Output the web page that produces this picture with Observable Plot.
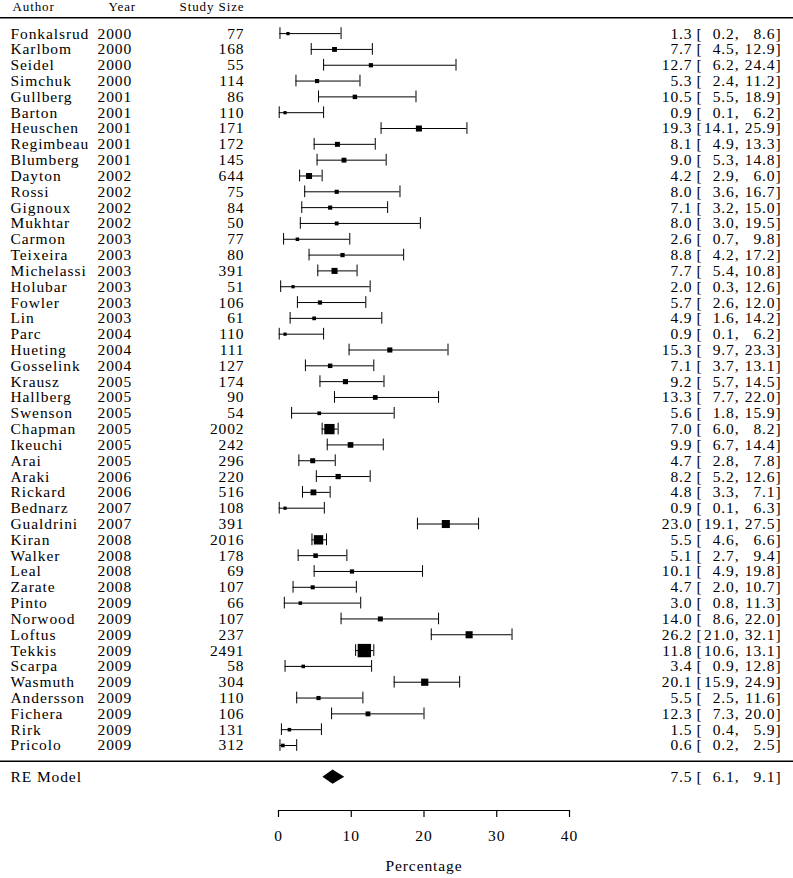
<!DOCTYPE html>
<html><head><meta charset="utf-8">
<script src="https://cdn.jsdelivr.net/npm/d3@7"></script>
<script src="https://cdn.jsdelivr.net/npm/@observablehq/plot@0.6"></script>
<style>html,body{margin:0;padding:0;background:#fff} svg{display:block} svg text{letter-spacing:0.9px}</style>
</head><body><div id="chart"></div>
<script>
const authors = ["Fonkalsrud","Karlbom","Seidel","Simchuk","Gullberg","Barton","Heuschen","Regimbeau","Blumberg","Dayton","Rossi","Gignoux","Mukhtar","Carmon","Teixeira","Michelassi","Holubar","Fowler","Lin","Parc","Hueting","Gosselink","Krausz","Hallberg","Swenson","Chapman","Ikeuchi","Arai","Araki","Rickard","Bednarz","Gualdrini","Kiran","Walker","Leal","Zarate","Pinto","Norwood","Loftus","Tekkis","Scarpa","Wasmuth","Andersson","Fichera","Rirk","Pricolo"];
const years = [2000,2000,2000,2000,2001,2001,2001,2001,2001,2002,2002,2002,2002,2003,2003,2003,2003,2003,2003,2004,2004,2004,2005,2005,2005,2005,2005,2005,2006,2006,2007,2007,2008,2008,2008,2008,2009,2009,2009,2009,2009,2009,2009,2009,2009,2009];
const studySizes = [77,168,55,114,86,110,171,172,145,644,75,84,50,77,80,391,51,106,61,110,111,127,174,90,54,2002,242,296,220,516,108,391,2016,178,69,107,66,107,237,2491,58,304,110,106,131,312];
const estimates = [1.3,7.7,12.7,5.3,10.5,0.9,19.3,8.1,9.0,4.2,8.0,7.1,8.0,2.6,8.8,7.7,2.0,5.7,4.9,0.9,15.3,7.1,9.2,13.3,5.6,7.0,9.9,4.7,8.2,4.8,0.9,23.0,5.5,5.1,10.1,4.7,3.0,14.0,26.2,11.8,3.4,20.1,5.5,12.3,1.5,0.6];
const lowers = [0.2,4.5,6.2,2.4,5.5,0.1,14.1,4.9,5.3,2.9,3.6,3.2,3.0,0.7,4.2,5.4,0.3,2.6,1.6,0.1,9.7,3.7,5.7,7.7,1.8,6.0,6.7,2.8,5.2,3.3,0.1,19.1,4.6,2.7,4.9,2.0,0.8,8.6,21.0,10.6,0.9,15.9,2.5,7.3,0.4,0.2];
const uppers = [8.6,12.9,24.4,11.2,18.9,6.2,25.9,13.3,14.8,6.0,16.7,15.0,19.5,9.8,17.2,10.8,12.6,12.0,14.2,6.2,23.3,13.1,14.5,22.0,15.9,8.2,14.4,7.8,12.6,7.1,6.3,27.5,6.6,9.4,19.8,10.7,11.3,22.0,32.1,13.1,12.8,24.9,11.6,20.0,5.9,2.5];
const summaryLabel = "RE Model";
const summaryEst = 7.5, summaryLo = 6.1, summaryHi = 9.1;
const xTicks = [0,10,20,30,40];
const headers = ["Author","Year","Study Size"];
const xLabel = "Percentage";

// layout
const W = 793, H = 878;
const px0 = 278, pxPerUnit = 7.275;
const rowH = 15.82, lastRowPx = 745, axisPx = 810;
const k = authors.length;
const rowAt = px => 1 + (lastRowPx - px) / rowH;
const logit = p => Math.log(p / (1 - p));

const rows = authors.map((a, i) => {
  const w = 3.92 / (logit(uppers[i] / 100) - logit(lowers[i] / 100));
  return {author: a, year: String(years[i]), size: String(studySizes[i]),
    est: estimates[i], lo: lowers[i], hi: uppers[i], row: k - i, w};
});
const side = w => 2.6 + 0.66 * w;

const summary = [{label: summaryLabel, est: summaryEst, lo: summaryLo, hi: summaryHi, row: -1}];
const diamond = [
  {x: summaryLo, y1: -1, y2: -1},
  {x: summaryEst, y1: -1 - 0.45, y2: -1 + 0.45},
  {x: summaryHi, y1: -1, y2: -1}
];
const textRows = rows.concat(summary.map(d => ({...d, author: d.label, year: "", size: ""})));
const font = "'Liberation Serif', 'Times New Roman', serif";
const fs = 15.5;
const cap = 0.37;

const plot = Plot.plot({
  width: W, height: H,
  marginTop: 0, marginLeft: 0, marginRight: 0, marginBottom: H - axisPx,
  style: {fontFamily: font, fontSize: fs + "px", background: "#fff", color: "#000"},
  x: {domain: [-px0 / pxPerUnit, (W - px0) / pxPerUnit]},
  y: {domain: [rowAt(axisPx), rowAt(0)], axis: null},
  r: {type: "identity"},
  marks: [
    Plot.ruleY([k + 1], {stroke: "#000", strokeWidth: 1.6}),
    Plot.ruleY([0], {stroke: "#000", strokeWidth: 1.6}),
    // header
    Plot.text([headers[0]], {frameAnchor: "left", y: () => k + 1, dx: 12, dy: -11, textAnchor: "start", lineAnchor: "middle", fontSize: 13}),
    Plot.text([headers[1]], {frameAnchor: "left", y: () => k + 1, dx: 108, dy: -11, textAnchor: "start", lineAnchor: "middle", fontSize: 13}),
    Plot.text([headers[2]], {frameAnchor: "left", y: () => k + 1, dx: 244, dy: -11, textAnchor: "end", lineAnchor: "middle", fontSize: 13}),
    // text columns
    Plot.text(textRows, {frameAnchor: "left", y: "row", text: "author", dx: 10, textAnchor: "start", lineAnchor: "middle"}),
    Plot.text(textRows, {frameAnchor: "left", y: "row", text: "year", dx: 97, textAnchor: "start", lineAnchor: "middle"}),
    Plot.text(textRows, {frameAnchor: "left", y: "row", text: "size", dx: 244, textAnchor: "end", lineAnchor: "middle"}),
    Plot.text(textRows, {frameAnchor: "left", y: "row", text: d => d.est.toFixed(1), dx: 692, textAnchor: "end", lineAnchor: "middle"}),
    Plot.text(textRows, {frameAnchor: "left", y: "row", text: () => "[", dx: 696, textAnchor: "start", lineAnchor: "middle"}),
    Plot.text(textRows, {frameAnchor: "left", y: "row", text: d => d.lo.toFixed(1) + ",", dx: 739, textAnchor: "end", lineAnchor: "middle"}),
    Plot.text(textRows, {frameAnchor: "left", y: "row", text: d => d.hi.toFixed(1), dx: 775, textAnchor: "end", lineAnchor: "middle"}),
    Plot.text(textRows, {frameAnchor: "left", y: "row", text: () => "]", dx: 775, textAnchor: "start", lineAnchor: "middle"}),
    // CIs
    Plot.ruleY(rows, {x1: "lo", x2: "hi", y: "row", stroke: "#000", strokeWidth: 1}),
    Plot.ruleX(rows, {x: "lo", y1: d => d.row - cap, y2: d => d.row + cap, stroke: "#000", strokeWidth: 1}),
    Plot.ruleX(rows, {x: "hi", y1: d => d.row - cap, y2: d => d.row + cap, stroke: "#000", strokeWidth: 1}),
    Plot.dot(rows, {x: "est", y: "row", r: d => side(d.w) / Math.sqrt(Math.PI), symbol: "square", fill: "#000", stroke: "none"}),
    // summary diamond
    Plot.areaY(diamond, {x: "x", y1: "y1", y2: "y2", fill: "#000"}),
    // axis
    Plot.ruleY([rowAt(axisPx)], {x1: xTicks[0], x2: xTicks[xTicks.length - 1], stroke: "#000", strokeWidth: 1.2}),
    Plot.axisX({ticks: xTicks, tickSize: 7, tickPadding: 12, anchor: "bottom", label: null, tickFormat: d => String(d), stroke: "#000", strokeWidth: 1.2}),
    Plot.text([{label: xLabel, x: (xTicks[0] + xTicks[xTicks.length - 1]) / 2}], {x: "x", text: "label", frameAnchor: "bottom", dy: 56, lineAnchor: "middle"})
  ]
});
document.getElementById("chart").appendChild(plot);
</script>
</body></html>
